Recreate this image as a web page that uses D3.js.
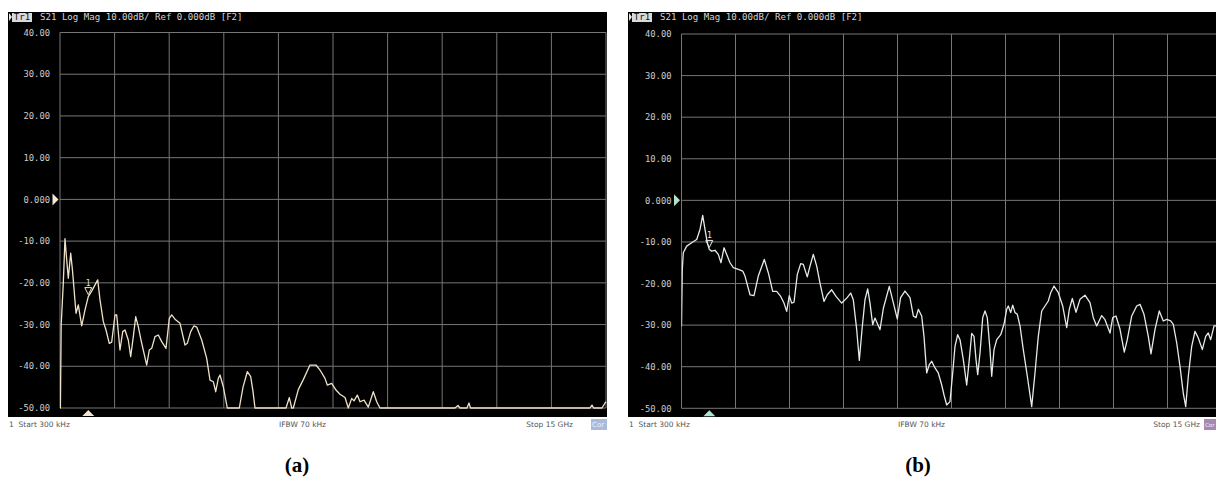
<!DOCTYPE html>
<html><head><meta charset="utf-8">
<script src="https://cdn.jsdelivr.net/npm/d3@7"></script>
<style>html,body{margin:0;padding:0;background:#fff;} svg{display:block;}</style>
</head><body>
<svg id="chart" width="1216" height="478"></svg>
<script>
// ---------- data ----------
const yTickValues = [40,30,20,10,0,-10,-20,-30,-40,-50];
const yTickLabels = ["40.00","30.00","20.00","10.00","0.000","-10.00","-20.00","-30.00","-40.00","-50.00"];
const xGridValues = [0,1.5,3,4.5,6,7.5,9,10.5,12,13.5,15]; // GHz
const xDomain = [0, 15];
const yDomain = [-50, 40];
const titleText = "S21 Log Mag 10.00dB/ Ref 0.000dB [F2]";
const traceLabel = "Tr1";
const startLabel = "1  Start 300 kHz";
const ifbwLabel = "IFBW 70 kHz";
const stopLabel = "Stop 15 GHz";
const corLabel = "Cor";
const panelLabels = ["(a)", "(b)"];
const markerName = "1";
const markerFreqA = 0.777;
const markerFreqB = 0.772;

const freqA = [0,0.011,0.033,0.091,0.137,0.179,0.228,0.294,0.343,0.44,
  0.503,0.596,0.687,0.777,0.871,1.036,1.099,1.19,1.264,1.354,
  1.42,1.511,1.558,1.648,1.723,1.786,1.876,1.942,2.014,2.08,
  2.151,2.225,2.382,2.453,2.519,2.61,2.701,2.794,2.912,3.003,
  3.069,3.159,3.297,3.434,3.497,3.591,3.681,3.756,3.893,4.03,
  4.121,4.212,4.278,4.349,4.396,4.486,4.596,4.926,5.028,5.146,
  5.239,5.302,5.357,6.209,6.3,6.366,6.41,6.547,6.684,6.868,
  7.033,7.143,7.28,7.343,7.464,7.582,7.692,7.83,7.92,8.014,
  8.077,8.168,8.242,8.352,8.47,8.607,8.701,8.791,10.852,10.934,
  10.989,11.181,11.236,11.277,14.561,14.616,14.657,14.891,14.973,15];
const dbA = [-43,-50,-30,-20,-9.4,-14,-18.9,-12.9,-17,-27.3,
  -25.3,-30.3,-26.5,-23.3,-22,-19.3,-24.1,-29.3,-31.3,-34.5,
  -34.2,-27.7,-27.7,-36.1,-31.7,-31.3,-33.7,-37.7,-32.9,-28.1,
  -30.5,-33.7,-39.7,-36.1,-35.7,-32.9,-32.5,-34.1,-35.7,-28.5,
  -27.7,-28.7,-29.7,-34.9,-34.5,-31.7,-30.3,-30.6,-33.7,-38.1,
  -43.3,-43.7,-46.1,-42.9,-42.1,-44.9,-50,-50,-45,-41.3,
  -42.5,-46,-50,-50,-47.5,-50,-50,-45.6,-43.2,-39.7,
  -39.7,-40.9,-42.9,-44.5,-44.1,-45.7,-46.7,-47.5,-50,-47.7,
  -48.3,-46.9,-48.5,-48.1,-49.8,-46.1,-48.5,-50,-50,-49.4,
  -50,-50,-48.8,-50,-50,-49.3,-50,-50,-48.8,-48.5];

const freqB = [0,0.022,0.05,0.144,0.283,0.422,0.514,0.589,0.653,0.717,
  0.772,0.839,0.931,1.022,1.097,1.181,1.256,1.347,1.439,1.578,
  1.7,1.764,1.903,2.014,2.133,2.3,2.411,2.533,2.644,2.756,
  2.847,2.922,2.994,3.061,3.125,3.217,3.311,3.383,3.494,3.569,
  3.661,3.756,3.847,3.958,4.05,4.172,4.292,4.45,4.589,4.7,
  4.772,4.867,4.939,5.014,5.097,5.172,5.236,5.311,5.375,5.514,
  5.606,5.772,5.883,5.994,6.086,6.208,6.347,6.439,6.514,6.578,
  6.672,6.736,6.811,6.883,6.95,7.042,7.133,7.228,7.292,7.367,
  7.458,7.533,7.597,7.672,7.736,7.828,7.922,7.994,8.061,8.125,
  8.181,8.228,8.292,8.367,8.431,8.494,8.569,8.617,8.681,8.756,
  8.867,8.958,9.033,9.078,9.144,9.2,9.264,9.328,9.403,9.494,
  9.606,9.728,9.819,9.911,10.006,10.097,10.189,10.256,10.347,10.467,
  10.589,10.7,10.772,10.856,10.958,11.069,11.208,11.347,11.439,11.533,
  11.672,11.764,11.903,11.978,12.069,12.181,12.3,12.383,12.506,12.644,
  12.736,12.847,12.967,13.042,13.153,13.272,13.383,13.478,13.589,13.661,
  13.756,13.847,13.939,14.006,14.078,14.172,14.264,14.356,14.467,14.561,
  14.633,14.7,14.792,14.847,15];
const dbB = [-30.3,-16.6,-12.6,-11,-10.2,-9.4,-7,-3.6,-7,-10.2,
  -11.8,-12.2,-12,-13,-15,-11.4,-13,-15,-16.2,-16.6,
  -17,-18.2,-22.7,-22.9,-18.2,-14.2,-17.4,-21.9,-21.9,-23.1,
  -24.7,-26.7,-22.9,-24.7,-24.5,-17.8,-15.2,-15.4,-18.4,-15.8,
  -13,-15.8,-19.9,-24.3,-22.7,-21.5,-23.1,-24.7,-23.5,-22.3,
  -23.9,-31.1,-38.5,-31.1,-23.9,-21.3,-24.7,-29.9,-28.3,-31.1,
  -26,-20.7,-24.6,-28.5,-23.4,-21.8,-23.4,-27.8,-28.2,-26.2,
  -27.8,-32.7,-41.5,-39.5,-38.7,-40.3,-41.5,-44.4,-46.8,-49.2,
  -48.4,-41.5,-35.1,-32.3,-33.5,-38.3,-44.4,-38.3,-32,-32.7,
  -38.3,-41.9,-36.7,-28.2,-26.6,-28.2,-35.9,-42.3,-35.9,-33.5,
  -32.3,-29.8,-26.2,-25.4,-27,-25.2,-27,-27.4,-30.2,-35.9,
  -42.3,-49.6,-41.5,-32.7,-26.6,-25.4,-24.2,-22.2,-20.6,-22.2,
  -25.4,-30.6,-26.2,-23.6,-26.9,-23.8,-22.8,-24.6,-28.2,-30.2,
  -27.7,-28.7,-31.9,-28.2,-27.8,-31,-36.5,-33.5,-27.8,-25.4,
  -25,-27.4,-32.7,-36.9,-31,-26.6,-29,-28.6,-29,-29.8,
  -34.3,-39.9,-46.4,-49.6,-42.3,-35.1,-31.5,-33.1,-35.9,-32.7,
  -31.9,-33.5,-30.2,-30.2,-30.5];

// ---------- layout / style ----------
const panels = [
  {bx:8, by:12, bw:599, bh:405, pl:60, pr:606, pt:32.5, pb:408, lab:50,
   trace:"#eee3c8", mark:"#f3e9d2", freq:freqA, db:dbA, mf:markerFreqA,
   ifbwX:279, stopEnd:573, corX:591, corW:16, corFill:"#a8bbda", corFont:7, capX:297},
  {bx:628, by:12, bw:600, bh:405, pl:681.5, pr:1221.5, pt:34, pb:408.3, lab:671.5,
   trace:"#e4ece6", mark:"#aee3cc", freq:freqB, db:dbB, mf:markerFreqB,
   ifbwX:898, stopEnd:1200, corX:1204, corW:12, corFill:"#a887b2", corFont:5.5, capX:918}
];

const svg = d3.select("#chart");
svg.append("rect").attr("width",1216).attr("height",478).attr("fill","#fff");
const mono = "'DejaVu Sans Mono', 'Liberation Mono', monospace";
const sans = "'DejaVu Sans', 'Liberation Sans', sans-serif";
const gridColor = "#767676";

panels.forEach((p, i) => {
  const g = svg.append("g");
  const x = d3.scaleLinear().domain(xDomain).range([p.pl, p.pr]);
  const y = d3.scaleLinear().domain(yDomain).range([p.pb, p.pt]).clamp(true);

  g.append("rect").attr("x",p.bx).attr("y",p.by).attr("width",p.bw).attr("height",p.bh).attr("fill","#000");

  // title bar
  const ty = p.by + 5;
  g.append("path").attr("d",`M${p.bx+1},${ty-4}L${p.bx+4},${ty}L${p.bx+1},${ty+4}Z`).attr("fill","#e8e8e8");
  g.append("rect").attr("x",p.bx+4).attr("y",p.by+1).attr("width",20).attr("height",9).attr("fill","#d9d9d9");
  g.append("text").attr("x",p.bx+14).attr("y",ty+3.3).attr("text-anchor","middle")
    .attr("font-family",mono).attr("font-size",9).attr("fill","#111").text(traceLabel);
  g.append("text").attr("x",p.bx+32).attr("y",ty+3.3)
    .attr("font-family",mono).attr("font-size",9.1).attr("fill","#d4d4d4")
    .attr("xml:space","preserve").text(titleText);

  // grid
  g.append("g").selectAll("line").data(yTickValues).join("line")
    .attr("x1",p.pl).attr("x2",p.pr).attr("y1",d=>y(d)).attr("y2",d=>y(d))
    .attr("stroke",gridColor).attr("stroke-width",1);
  g.append("g").selectAll("line").data(xGridValues).join("line")
    .attr("x1",d=>x(d)).attr("x2",d=>x(d)).attr("y1",p.pt).attr("y2",p.pb)
    .attr("stroke",gridColor).attr("stroke-width",1);

  // y labels
  g.append("g").selectAll("text").data(yTickValues).join("text")
    .attr("x",p.lab).attr("y",d=>y(d)+3.2).attr("text-anchor","end")
    .attr("font-family",mono).attr("font-size",8.8).attr("fill","#cdcdcd")
    .text((d,k)=>yTickLabels[k]);

  // reference level marker at 0 dB
  const y0 = y(0);
  g.append("path").attr("d",`M${p.lab+2.5},${y0-6}L${p.lab+8.5},${y0}L${p.lab+2.5},${y0+6}Z`).attr("fill",p.mark);

  // trace
  const clipId = "clip"+i;
  svg.append("clipPath").attr("id",clipId).append("rect")
    .attr("x",p.pl).attr("y",p.pt-1).attr("width",p.pr-p.pl+1).attr("height",p.pb-p.pt+2);
  const pts = p.freq.map((f,k)=>[f,p.db[k]]);
  const line = d3.line().x(d=>x(d[0])).y(d=>y(d[1]));
  g.append("path").attr("d",line(pts)).attr("fill","none").attr("stroke",p.trace)
    .attr("stroke-width",1.3).attr("stroke-linejoin","round").attr("clip-path",`url(#${clipId})`);

  // marker 1 on trace
  const bis = d3.bisector(d=>d[0]).left;
  const k = Math.max(1, bis(pts, p.mf));
  const a = pts[k-1], b = pts[k];
  const t = (p.mf - a[0]) / (b[0]-a[0]);
  const mdb = a[1] + t*(b[1]-a[1]);
  const mx = x(p.mf), my = y(mdb) - 2;
  g.append("path").attr("d",`M${mx-3.5},${my-7}L${mx+3.5},${my-7}L${mx},${my}Z`)
    .attr("fill","none").attr("stroke",p.trace).attr("stroke-width",1);
  g.append("text").attr("x",mx).attr("y",my-9).attr("text-anchor","middle")
    .attr("font-family",mono).attr("font-size",8).attr("fill",p.trace).text(markerName);

  // bottom marker triangle
  g.append("path").attr("d",`M${mx-6},${p.pb+8}L${mx+6},${p.pb+8}L${mx},${p.pb+2}Z`).attr("fill",p.mark);

  // footer
  const fy = p.by + p.bh + 10;
  g.append("text").attr("x",p.bx+1).attr("y",fy).attr("xml:space","preserve")
    .attr("font-family",sans).attr("font-size",7.5).attr("fill","#555").text(startLabel);
  g.append("text").attr("x",p.ifbwX).attr("y",fy)
    .attr("font-family",sans).attr("font-size",7.5).attr("fill","#555").text(ifbwLabel);
  g.append("text").attr("x",p.stopEnd).attr("y",fy).attr("text-anchor","end")
    .attr("font-family",sans).attr("font-size",7.5).attr("fill","#555").text(stopLabel);
  g.append("rect").attr("x",p.corX).attr("y",fy-8).attr("width",p.corW).attr("height",11).attr("fill",p.corFill);
  g.append("text").attr("x",p.corX+1).attr("y",fy)
    .attr("font-family",sans).attr("font-size",p.corFont).attr("fill","#eef").text(corLabel);

  // caption
  svg.append("text").attr("x",p.capX).attr("y",472).attr("text-anchor","middle")
    .attr("font-family","'Liberation Serif','Times New Roman',serif").attr("font-weight","bold")
    .attr("font-size",21).attr("fill","#000").text(panelLabels[i]);
});
</script>
</body></html>
